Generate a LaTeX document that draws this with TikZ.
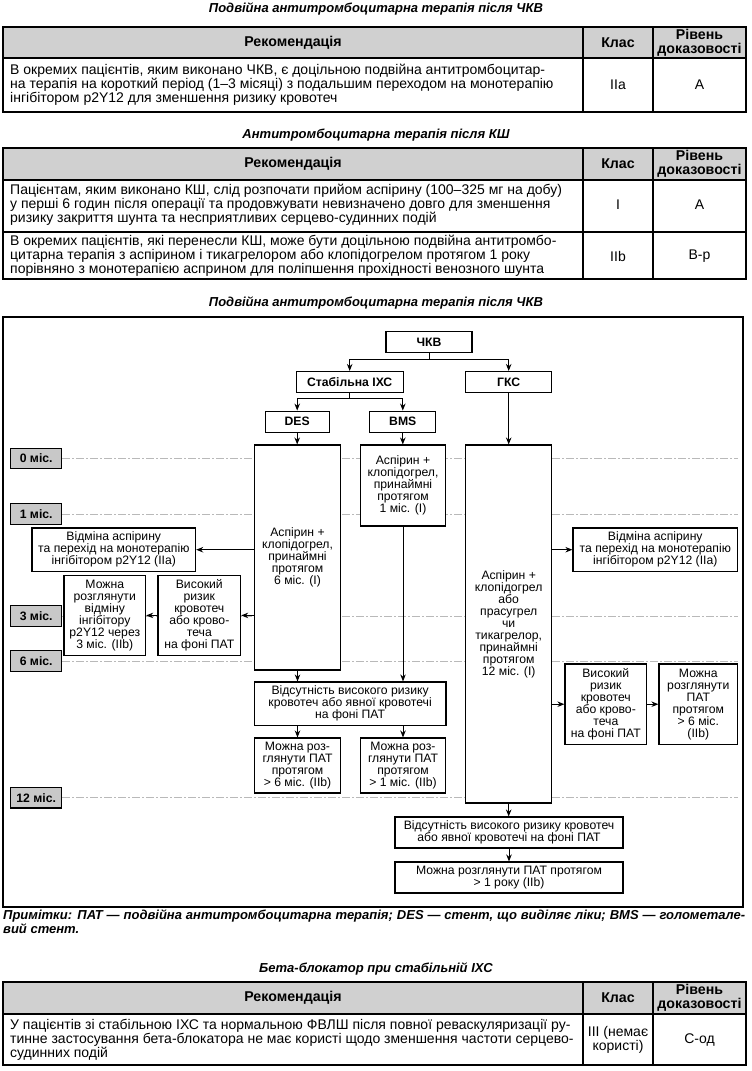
\documentclass[tikz,border=0pt]{standalone}
\usepackage{fontspec}
\setmainfont{Liberation Sans}
\newfontfamily\cfam{Liberation Sans}
\usetikzlibrary{arrows.meta,calc}
\definecolor{hdr}{RGB}{208,208,208}
\definecolor{tlc}{RGB}{200,200,200}
\definecolor{dlc}{RGB}{185,185,185}
\newcommand{\mytab}{\cfam\fontsize{14}{14}\selectfont}
\newcommand{\mytabb}{\cfam\bfseries\fontsize{14.2}{14}\selectfont}
\newcommand{\mydiag}{\cfam\fontsize{12.2}{12}\selectfont}
\newcommand{\mydiagb}{\cfam\bfseries\fontsize{12.2}{12}\selectfont}
\newcommand{\myttl}{\cfam\bfseries\itshape\fontsize{13}{14}\selectfont}
\begin{document}
\begin{tikzpicture}[x=1pt,y=-1pt,
  tline/.style={line width=1.2pt},
  ttl/.style={inner sep=0pt,font=\myttl},
  hd/.style={inner sep=0pt,font=\mytabb,align=center},
  tb/.style={inner sep=0pt,font=\mytab,align=left},
  tc/.style={inner sep=0pt,font=\mytab,align=center},
  box/.style={draw,line width=1.1pt,fill=white,inner sep=0.5pt,align=center,font=\mydiag},
  bbox/.style={box,font=\mydiagb},
  tlbox/.style={draw,line width=1.1pt,fill=tlc,minimum width=51pt,minimum height=20.5pt,inner sep=0pt,font=\mydiagb},
  arr/.style={line width=1pt,-{Stealth[length=7pt,width=5.5pt]}},
  cline/.style={line width=1pt},
  dl/.style={draw=dlc,line width=0.8pt,dash pattern=on 8pt off 2pt on 2pt off 2pt}
]
\useasboundingbox (0,0) rectangle (752,1071);
\fill[white] (0,0) rectangle (752,1071);

% ---------- Table 1 ----------
\node[ttl] (t1) at (376,9) {Подвійна антитромбоцитарна терапія після ЧКВ};
\fill[hdr] (3,27) rectangle (746,58);
\draw[tline] (3,27) rectangle (746,112);
\draw[tline] (3,58) -- (746,58);
\draw[tline] (583,27) -- (583,112);
\draw[tline] (653,27) -- (653,112);
\node[hd] (t1h1) at (293,42.5) {Рекомендація};
\node[hd] (t1h2) at (618,42.5) {Клас};
\node[hd] (t1h3) at (699.5,42.5) {Рівень\\доказовості};
\node[tb,anchor=west] (t1r1) at (10,85) {В окремих пацієнтів, яким виконано ЧКВ, є доцільною подвійна антитромбоцитар-\\на терапія на короткий період (1–3 місяці) з подальшим переходом на монотерапію\\інгібітором p2Y12 для зменшення ризику кровотеч};
\node[tc] (t1c1) at (618,85) {IIa};
\node[tc] (t1l1) at (699.5,85) {A};

% ---------- Table 2 ----------
\node[ttl] (t2) at (376,135) {Антитромбоцитарна терапія після КШ};
\fill[hdr] (3,148) rectangle (746,180);
\draw[tline] (3,148) rectangle (746,279);
\draw[tline] (3,180) -- (746,180);
\draw[tline] (3,232) -- (746,232);
\draw[tline] (583,148) -- (583,279);
\draw[tline] (653,148) -- (653,279);
\node[hd] (t2h1) at (293,164) {Рекомендація};
\node[hd] (t2h2) at (618,164) {Клас};
\node[hd] (t2h3) at (699.5,164) {Рівень\\доказовості};
\node[tb,anchor=west] (t2r1) at (10,205) {Пацієнтам, яким виконано КШ, слід розпочати прийом аспірину (100–325 мг на добу)\\у перші 6 годин після операції та продовжувати невизначено довго для зменшення\\ризику закриття шунта та несприятливих серцево-судинних подій};
\node[tc] (t2c1) at (618,205) {I};
\node[tc] (t2l1) at (699.5,205) {A};
\node[tb,anchor=west] (t2r2) at (10,256) {В окремих пацієнтів, які перенесли КШ, може бути доцільною подвійна антитромбо-\\цитарна терапія з аспірином і тикагрелором або клопідогрелом протягом 1 року\\порівняно з монотерапією асприном для поліпшення прохідності венозного шунта};
\node[tc] (t2c2) at (618,256) {IIb};
\node[tc] (t2l2) at (699.5,256) {B-p};

% ---------- Diagram ----------
\node[ttl] (t3) at (376,303) {Подвійна антитромбоцитарна терапія після ЧКВ};
\draw[line width=1.3pt] (3,317) rectangle (743,907);

% timeline
\node[tlbox] (m0) at (36.2,458.5) {0 міс.};
\node[tlbox] (m1) at (36.2,514) {1 міс.};
\node[tlbox] (m3) at (36.2,616) {3 міс.};
\node[tlbox] (m6) at (36.2,661) {6 міс.};
\node[tlbox] (m12) at (36.2,797.7) {12 міс.};
\coordinate (e0) at (737.7,458.5);
\coordinate (e1) at (737.7,514);
\coordinate (e3) at (737.7,616);
\coordinate (e6) at (737.7,661);
\coordinate (e12) at (737.7,797.7);
\draw[dl] (m0.east) -- (e0);
\draw[dl] (m1.east) -- (e1);
\draw[dl] (m3.east) -- (e3);
\draw[dl] (m6.east) -- (e6);
\draw[dl] (m12.east) -- (e12);

% boxes
\node[bbox,minimum width=86pt,minimum height=21pt] (chkv) at (429,342) {ЧКВ};
\node[bbox,minimum width=107pt,minimum height=21pt] (stab) at (349.7,382) {Стабільна ІХС};
\node[bbox,minimum width=86pt,minimum height=21pt] (gks) at (508.7,382) {ГКС};
\node[bbox,minimum width=64pt,minimum height=21pt] (des) at (297.2,421.6) {DES};
\node[bbox,minimum width=66pt,minimum height=21pt] (bms) at (402.8,421.6) {BMS};
\node[box,minimum width=86.4pt,minimum height=225pt] (desbig) at (297.5,557.5) {Аспірин +\\клопідогрел,\\принаймні\\протягом\\6 міс. (I)};
\node[box,minimum width=85pt,minimum height=81pt] (bmsbig) at (403,485.5) {Аспірин +\\клопідогрел,\\принаймні\\протягом\\1 міс. (I)};
\node[box,minimum width=86pt,minimum height=358pt] (gksbig) at (508.7,624) {Аспірин +\\клопідогрел\\або\\прасугрел\\чи\\тикагрелор,\\принаймні\\протягом\\12 міс. (I)};
\node[box,minimum width=163.7pt,minimum height=43.5pt] (leftvid) at (113.8,549.7) {Відміна аспірину\\та перехід на монотерапію\\інгібітором p2Y12 (IIa)};
\node[box,minimum width=82.7pt,minimum height=79.3pt] (leftvys) at (199.3,615.4) {Високий\\ризик\\кровотеч\\або крово-\\теча\\на фоні ПАТ};
\node[box,minimum width=81.7pt,minimum height=79.3pt] (leftmozh) at (104.8,615.4) {Можна\\розглянути\\відміну\\інгібітору\\p2Y12 через\\3 міс. (IIb)};
\node[box,minimum width=164.7pt,minimum height=43.5pt] (rightvid) at (655.3,549.7) {Відміна аспірину\\та перехід на монотерапію\\інгібітором p2Y12 (IIa)};
\node[box,minimum width=81.7pt,minimum height=80.5pt] (rightvys) at (605.8,704.2) {Високий\\ризик\\кровотеч\\або крово-\\теча\\на фоні ПАТ};
\node[box,minimum width=78.7pt,minimum height=80.5pt] (rightmozh) at (698.3,704.2) {Можна\\розглянути\\ПАТ\\протягом\\> 6 міс.\\(IIb)};
\node[box,minimum width=191.7pt,minimum height=43.5pt] (vids1) at (350.1,703.7) {Відсутність високого ризику\\кровотеч або явної кровотечі\\на фоні ПАТ};
\node[box,minimum width=86.4pt,minimum height=55pt] (mozh6) at (297.5,765.5) {Можна роз-\\глянути ПАТ\\протягом\\> 6 міс. (IIb)};
\node[box,minimum width=85pt,minimum height=55pt] (mozh1) at (403,765.5) {Можна роз-\\глянути ПАТ\\протягом\\> 1 міс. (IIb)};
\node[box,minimum width=228pt,minimum height=31pt] (vids2) at (509,832.5) {Відсутність високого ризику кровотеч\\або явної кровотечі на фоні ПАТ};
\node[box,minimum width=228pt,minimum height=31pt] (mozhrik) at (509,877.5) {Можна розглянути ПАТ протягом\\> 1 року (IIb)};

% connectors
\coordinate (j1) at ($(chkv.south)+(0,6)$);
\draw[cline] (chkv.south) -- (j1);
\draw[arr] (j1) -| (stab.north);
\draw[arr] (j1) -| (gks.north);
\coordinate (j2) at ($(stab.south)+(0,5.5)$);
\draw[cline] (stab.south) -- (j2);
\draw[arr] (j2) -| (des.north);
\draw[arr] (j2) -| (bms.north);
\draw[arr] (des.south) -- (des.south |- desbig.north);
\draw[arr] (bms.south) -- (bms.south |- bmsbig.north);
\draw[arr] (gks.south) -- (gks.south |- gksbig.north);
\draw[arr] (desbig.west |- leftvid.east) -- (leftvid.east);
\draw[arr] (desbig.west |- leftvys.east) -- (leftvys.east);
\draw[arr] (leftvys.west) -- (leftmozh.east);
\draw[arr] (gksbig.east |- rightvid.west) -- (rightvid.west);
\draw[arr] (gksbig.east |- rightvys.west) -- (rightvys.west);
\draw[arr] (rightvys.east) -- (rightmozh.west);
\draw[arr] (desbig.south) -- (desbig.south |- vids1.north);
\draw[arr] (bmsbig.south) -- (bmsbig.south |- vids1.north);
\draw[arr] (vids1.south -| mozh6.north) -- (mozh6.north);
\draw[arr] (vids1.south -| mozh1.north) -- (mozh1.north);
\draw[arr] (gksbig.south) -- (gksbig.south |- vids2.north);
\draw[arr] (vids2.south) -- (mozhrik.north);

% notes
\node[inner sep=0pt,anchor=north west,text width=742pt,align=justify,font=\myttl] (notes) at (3,910) {Примітки: ПАТ — подвійна антитромбоцитарна терапія; DES — стент, що виділяє ліки; BMS — голометале-\linebreak вий стент.};

% ---------- Table 3 ----------
\node[ttl] (t4) at (376,969) {Бета-блокатор при стабільній ІХС};
\fill[hdr] (3,982) rectangle (746,1014);
\draw[tline] (3,982) rectangle (746,1065);
\draw[tline] (3,1014) -- (746,1014);
\draw[tline] (583,982) -- (583,1065);
\draw[tline] (653,982) -- (653,1065);
\node[hd] (t4h1) at (293,998) {Рекомендація};
\node[hd] (t4h2) at (618,998) {Клас};
\node[hd] (t4h3) at (699.5,998) {Рівень\\доказовості};
\node[tb,anchor=west] (t4r1) at (10,1040) {У пацієнтів зі стабільною ІХС та нормальною ФВЛШ після повної реваскуляризації ру-\\тинне застосування бета-блокатора не має користі щодо зменшення частоти серцево-\\судинних подій};
\node[tc] (t4c1) at (618,1040) {III (немає\\користі)};
\node[tc] (t4l1) at (699.5,1040) {С-од};
\end{tikzpicture}
\end{document}
